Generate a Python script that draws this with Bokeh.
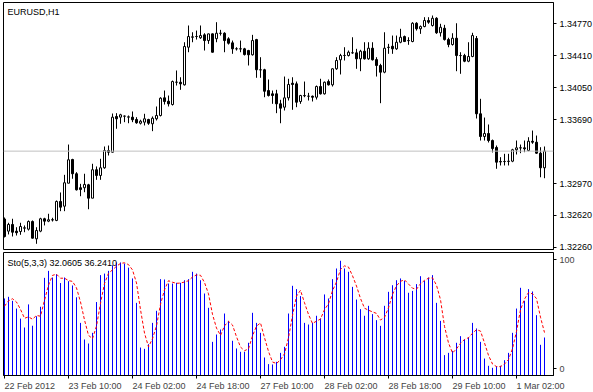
from bokeh.plotting import figure
from bokeh.layouts import column
from bokeh.models import Range1d, LinearAxis, FixedTicker, Span, Label, PrintfTickFormatter
from bokeh.embed import file_html
from bokeh.resources import INLINE

symbol_title = "EURUSD,H1"

opens = [1.32576,1.32440,1.32515,1.32440,1.32436,1.32473,1.32462,1.32548,1.32354,1.32440,
         1.32579,1.32552,1.32568,1.32560,1.32773,1.32720,1.32978,1.33244,1.33084,1.32927,
         1.32927,1.32960,1.32810,1.33129,1.33065,1.33151,1.33345,1.33326,1.33727,1.33719,
         1.33730,1.33719,1.33719,1.33693,1.33651,1.33663,1.33693,1.33645,1.33701,1.33738,
         1.33936,1.33898,1.33861,1.34111,1.34111,1.34082,1.34504,1.34616,1.34624,1.34610,
         1.34643,1.34579,1.34654,1.34600,1.34661,1.34661,1.34598,1.34553,1.34486,1.34486,
         1.34486,1.34467,1.34419,1.34590,1.34251,1.34251,1.34018,1.33981,1.33981,1.33869,
         1.33831,1.33936,1.34100,1.34093,1.33895,1.33962,1.33954,1.33954,1.33943,1.34063,
         1.33981,1.34119,1.34082,1.34262,1.34363,1.34411,1.34411,1.34441,1.34441,1.34374,
         1.34459,1.34374,1.34493,1.34365,1.34299,1.34224,1.34501,1.34515,1.34486,1.34560,
         1.34624,1.34579,1.34568,1.34773,1.34711,1.34736,1.34804,1.34748,1.34829,1.34666,
         1.34717,1.34590,1.34534,1.34605,1.34411,1.34411,1.34347,1.34400,1.34602,1.33757,
         1.33502,1.33536,1.33457,1.33379,1.33216,1.33222,1.33222,1.33225,1.33353,1.33375,
         1.33375,1.33345,1.33449,1.33438,1.33315,1.33151]
highs = [1.32593,1.32534,1.32579,1.32484,1.32534,1.32504,1.32560,1.32560,1.32484,1.32590,
         1.32590,1.32635,1.32590,1.32784,1.32874,1.33072,1.33412,1.33252,1.33102,1.32971,
         1.33084,1.32971,1.33196,1.33166,1.33252,1.33390,1.33401,1.33760,1.33764,1.33757,
         1.33738,1.33738,1.33783,1.33719,1.33690,1.33757,1.33701,1.33727,1.33839,1.33943,
         1.34018,1.33962,1.34130,1.34243,1.34167,1.34560,1.34748,1.34672,1.34691,1.34748,
         1.34661,1.34657,1.34658,1.34785,1.34699,1.34672,1.34616,1.34579,1.34504,1.34579,
         1.34497,1.34475,1.34643,1.34598,1.34392,1.34262,1.34142,1.34018,1.34026,1.33914,
         1.34175,1.34150,1.34167,1.34119,1.33970,1.34119,1.33992,1.33962,1.34074,1.34150,
         1.34119,1.34142,1.34268,1.34392,1.34430,1.34504,1.34467,1.34616,1.34486,1.34475,
         1.34560,1.34560,1.34560,1.34392,1.34318,1.34672,1.34542,1.34635,1.34635,1.34711,
         1.34635,1.34616,1.34785,1.34785,1.34748,1.34841,1.34841,1.34860,1.34841,1.34767,
         1.34755,1.34610,1.34661,1.34773,1.34448,1.34430,1.34560,1.34666,1.34630,1.33925,
         1.33715,1.33637,1.33468,1.33401,1.33270,1.33308,1.33308,1.33364,1.33457,1.33412,
         1.33457,1.33494,1.33569,1.33513,1.33382,1.33390]
lows = [1.32369,1.32403,1.32380,1.32391,1.32399,1.32428,1.32447,1.32358,1.32298,1.32428,
        1.32504,1.32541,1.32548,1.32552,1.32664,1.32664,1.32978,1.33028,1.32896,1.32832,
        1.32877,1.32686,1.32810,1.33016,1.33016,1.33140,1.33289,1.33323,1.33589,1.33645,
        1.33663,1.33651,1.33663,1.33645,1.33637,1.33626,1.33633,1.33562,1.33682,1.33727,
        1.33861,1.33839,1.33850,1.34074,1.34026,1.34074,1.34448,1.34560,1.34590,1.34598,
        1.34467,1.34542,1.34445,1.34560,1.34635,1.34448,1.34534,1.34430,1.34467,1.34448,
        1.34411,1.34299,1.34411,1.34161,1.34161,1.33943,1.33951,1.33869,1.33764,1.33651,
        1.33794,1.33906,1.33802,1.33831,1.33869,1.33943,1.33906,1.33895,1.33917,1.33973,
        1.33973,1.34074,1.34063,1.34250,1.34198,1.34355,1.34400,1.34430,1.34262,1.34235,
        1.34366,1.34363,1.34355,1.34175,1.33876,1.34212,1.34430,1.34430,1.34475,1.34549,
        1.34562,1.34531,1.34560,1.34691,1.34654,1.34728,1.34767,1.34736,1.34654,1.34624,
        1.34579,1.34504,1.34523,1.34235,1.34206,1.34336,1.34336,1.34392,1.33704,1.33457,
        1.33457,1.33435,1.33323,1.33140,1.33177,1.33177,1.33177,1.33214,1.33300,1.33315,
        1.33326,1.33337,1.33420,1.33308,1.33045,1.33034]
closes = [1.32380,1.32515,1.32428,1.32422,1.32492,1.32478,1.32548,1.32361,1.32447,1.32579,
          1.32552,1.32568,1.32565,1.32773,1.32709,1.32983,1.33241,1.33084,1.32904,1.32907,
          1.32964,1.32810,1.33129,1.33065,1.33151,1.33345,1.33326,1.33719,1.33701,1.33746,
          1.33731,1.33723,1.33690,1.33656,1.33674,1.33701,1.33651,1.33707,1.33738,1.33932,
          1.33895,1.33869,1.34119,1.34112,1.34093,1.34512,1.34624,1.34621,1.34625,1.34635,
          1.34579,1.34654,1.34448,1.34661,1.34660,1.34579,1.34549,1.34486,1.34487,1.34485,
          1.34422,1.34419,1.34579,1.34251,1.34250,1.34010,1.33962,1.33962,1.33869,1.33820,
          1.33936,1.34086,1.34086,1.33887,1.33962,1.33959,1.33955,1.33943,1.34063,1.33981,
          1.34111,1.34082,1.34262,1.34355,1.34411,1.34412,1.34448,1.34442,1.34374,1.34459,
          1.34374,1.34493,1.34363,1.34299,1.34224,1.34493,1.34504,1.34486,1.34560,1.34616,
          1.34568,1.34578,1.34773,1.34711,1.34736,1.34804,1.34785,1.34829,1.34666,1.34728,
          1.34590,1.34534,1.34605,1.34411,1.34410,1.34347,1.34400,1.34635,1.33757,1.33502,
          1.33536,1.33457,1.33367,1.33214,1.33222,1.33221,1.33225,1.33353,1.33375,1.33374,
          1.33364,1.33449,1.33438,1.33315,1.33151,1.33338]

sto_main = [65,66.4,63,56.5,48,40.5,60,42,50,58,
            82.4,88.3,82.7,85.5,78,82.7,79.6,76,66,44.4,
            30.4,27,36,62,84.7,86,88.3,93,95.4,95.4,
            94.5,91,81.9,61.3,23.6,22.5,26.4,44.4,54.6,81.3,
            81,77.6,77.6,78.2,78.2,80.4,81.3,87.5,86,80.4,
            69.2,57.1,28.4,34.6,38.8,52.3,46.1,29.3,22.8,20,
            20,27.6,52.9,44.4,36,15.2,9.6,9.3,11.5,19.1,
            24.2,52.3,75.7,72.9,67,44.4,43,44.4,50.4,48.1,
            68.4,65,81.3,90.3,96.8,90.3,87.5,74.8,64.1,56,
            50.4,58.8,51.8,46.7,41.9,58.8,70.6,76.2,80.4,81.9,
            79.9,69.8,71.4,77.1,83.8,79.9,82.7,84.7,61.3,46.1,
            17.2,19.1,20.8,27.6,33.2,30.4,32.1,44.4,39.7,28.4,
            14.3,8.2,6.5,7.9,8.2,12.9,19.1,36,56.5,74,
            63,72.9,70.9,50.9,25.9,32.0605]
sto_signal = [58.5,63,64.8,62.0,55.8,48.3,49.5,47.5,50.7,50,
              63.5,76.2,84.5,85.5,82.1,82.1,80.1,79.4,73.9,62.1,
              46.9,33.9,31.1,41.7,60.9,77.6,86.3,89.1,92.2,94.6,
              95.1,93.6,89.1,78.1,55.6,35.8,24.2,31.1,41.8,60.1,
              72.3,80.0,78.7,77.8,78.0,78.9,80.0,83.1,84.9,84.6,
              78.5,68.9,51.6,40.0,33.9,41.9,45.7,42.6,32.7,24.0,
              20.9,22.5,33.5,41.6,44.4,31.9,20.3,11.4,10.1,13.3,
              18.3,31.9,50.7,67.0,71.9,61.4,51.5,43.9,45.9,47.6,
              55.6,60.5,71.6,78.9,89.5,92.5,91.5,84.2,75.5,65.0,
              56.8,55.1,53.7,52.4,46.8,49.1,57.1,68.5,75.7,79.5,
              80.7,77.2,73.7,72.8,77.4,80.3,82.1,82.4,76.2,64.0,
              41.5,27.5,19.0,22.5,27.2,30.4,31.9,35.6,38.7,37.5,
              27.5,17.0,9.7,7.5,7.5,9.7,13.4,22.7,37.2,55.5,
              64.5,70.0,68.9,64.9,49.2,36.2410]

time_labels = ["22 Feb 2012", "23 Feb 10:00", "24 Feb 02:00", "24 Feb 18:00",
               "27 Feb 10:00", "28 Feb 02:00", "28 Feb 18:00", "29 Feb 10:00", "1 Mar 02:00"]
time_label_bars = [0, 16, 32, 48, 64, 80, 96, 112, 128]

price_ticks = [1.32260, 1.32620, 1.32970, 1.33690, 1.34050, 1.34410, 1.34770]
last_price = 1.33338
sto_params = "Sto(5,3,3)"

FONT = "Liberation Sans"
FS = "9px"

n = len(closes)
bars = list(range(n))

xr = Range1d(-0.25, 137.25)

p1 = figure(frame_width=550, frame_height=247, x_range=xr, y_range=Range1d(1.32234, 1.35006),
            x_axis_location=None, y_axis_location=None, toolbar_location=None,
            output_backend="svg", min_border_left=3, min_border_right=40,
            min_border_top=2, min_border_bottom=3)
p1.xgrid.visible = False
p1.ygrid.visible = False
p1.outline_line_color = "black"
p1.background_fill_color = "white"
p1.border_fill_color = "white"

ax = LinearAxis(ticker=FixedTicker(ticks=price_ticks), formatter=PrintfTickFormatter(format="%.5f"))
ax.major_tick_out = 3
ax.major_tick_in = 0
ax.minor_tick_line_color = None
ax.major_label_standoff = 3
ax.axis_line_color = "black"
ax.major_label_text_font = FONT
ax.major_label_text_font_size = FS
ax.major_label_text_color = "black"
p1.add_layout(ax, "right")

p1.add_layout(Span(location=last_price, dimension="width", line_color="#C0C0C0", line_width=1))

# wicks
p1.segment(x0=bars, y0=highs, x1=bars, y1=lows, line_color="black", line_width=1)
up_x = [i for i in bars if closes[i] >= opens[i]]
dn_x = [i for i in bars if closes[i] < opens[i]]
p1.vbar(x=up_x, width=0.5, top=[closes[i] for i in up_x], bottom=[opens[i] for i in up_x],
        fill_color="white", line_color="black", line_width=1)
p1.vbar(x=dn_x, width=0.5, top=[opens[i] for i in dn_x], bottom=[closes[i] for i in dn_x],
        fill_color="black", line_color="black", line_width=1)

p1.add_layout(Label(x=4, y=238, x_units="screen", y_units="screen", text=symbol_title,
                    text_font=FONT, text_font_size=FS, text_color="black",
                    text_baseline="middle", text_align="left"))
p1.add_layout(Label(x=553, y=last_price, x_units="screen", y_units="data", text=f"{last_price:.5f}",
                    text_font=FONT, text_font_size=FS, text_color="white",
                    background_fill_color="black", padding=1,
                    text_baseline="middle", text_align="left"))

# ---- stochastic panel ----
p2 = figure(frame_width=550, frame_height=123, x_range=xr, y_range=Range1d(0, 103.8),
            x_axis_location=None, y_axis_location=None, toolbar_location=None,
            output_backend="svg", min_border_left=3, min_border_right=40,
            min_border_top=0, min_border_bottom=17)
p2.xgrid.visible = False
p2.ygrid.visible = False
p2.outline_line_color = "black"
p2.background_fill_color = "white"
p2.border_fill_color = "white"

p2.segment(x0=bars, y0=[0] * n, x1=bars, y1=sto_main, line_color="#0000FF", line_width=1)
p2.line(bars, sto_signal, line_color="#FF0000", line_width=1, line_dash="3 2")

lvl_top, lvl_bot = 97.6, 5.9
ay2 = LinearAxis(ticker=FixedTicker(ticks=[lvl_bot, lvl_top]))
ay2.major_label_overrides = {lvl_bot: "0", lvl_top: "100"}
ay2.major_tick_out = 3
ay2.major_tick_in = 0
ay2.minor_tick_line_color = None
ay2.major_label_standoff = 3
ay2.axis_line_color = "black"
ay2.major_label_text_font = FONT
ay2.major_label_text_font_size = FS
p2.add_layout(ay2, "right")

# char widths (em) for left-aligned placement of the time labels
cw = {" ": 0.278, ":": 0.278, "F": 0.611, "e": 0.556, "b": 0.556, "M": 0.833, "a": 0.556, "r": 0.333}
def half_width_bars(s):
    w = sum(cw.get(ch, 0.556) for ch in s) * 9.0
    return w / 2.0 / 4.0

label_pos = [b + half_width_bars(t) for b, t in zip(time_label_bars, time_labels)]
axx = LinearAxis(ticker=FixedTicker(ticks=label_pos, minor_ticks=time_label_bars))
axx.major_label_overrides = {pos: t for pos, t in zip(label_pos, time_labels)}
axx.major_tick_line_color = None
axx.major_tick_out = 3
axx.major_tick_in = 0
axx.minor_tick_out = 3
axx.minor_tick_in = 0
axx.minor_tick_line_color = "black"
axx.major_label_standoff = 2
axx.axis_line_color = "black"
axx.major_label_text_font = FONT
axx.major_label_text_font_size = FS
p2.add_layout(axx, "below")

last_m = sto_main[-1]
last_s = sto_signal[-1]
p2.add_layout(Label(x=4, y=113, x_units="screen", y_units="screen",
                    text=f"{sto_params} {last_m:.4f} {last_s:.4f}",
                    text_font=FONT, text_font_size=FS, text_color="black",
                    text_baseline="middle", text_align="left"))

layout = column(p1, p2, spacing=0)
open("out.html", "w").write(file_html(layout, INLINE))
